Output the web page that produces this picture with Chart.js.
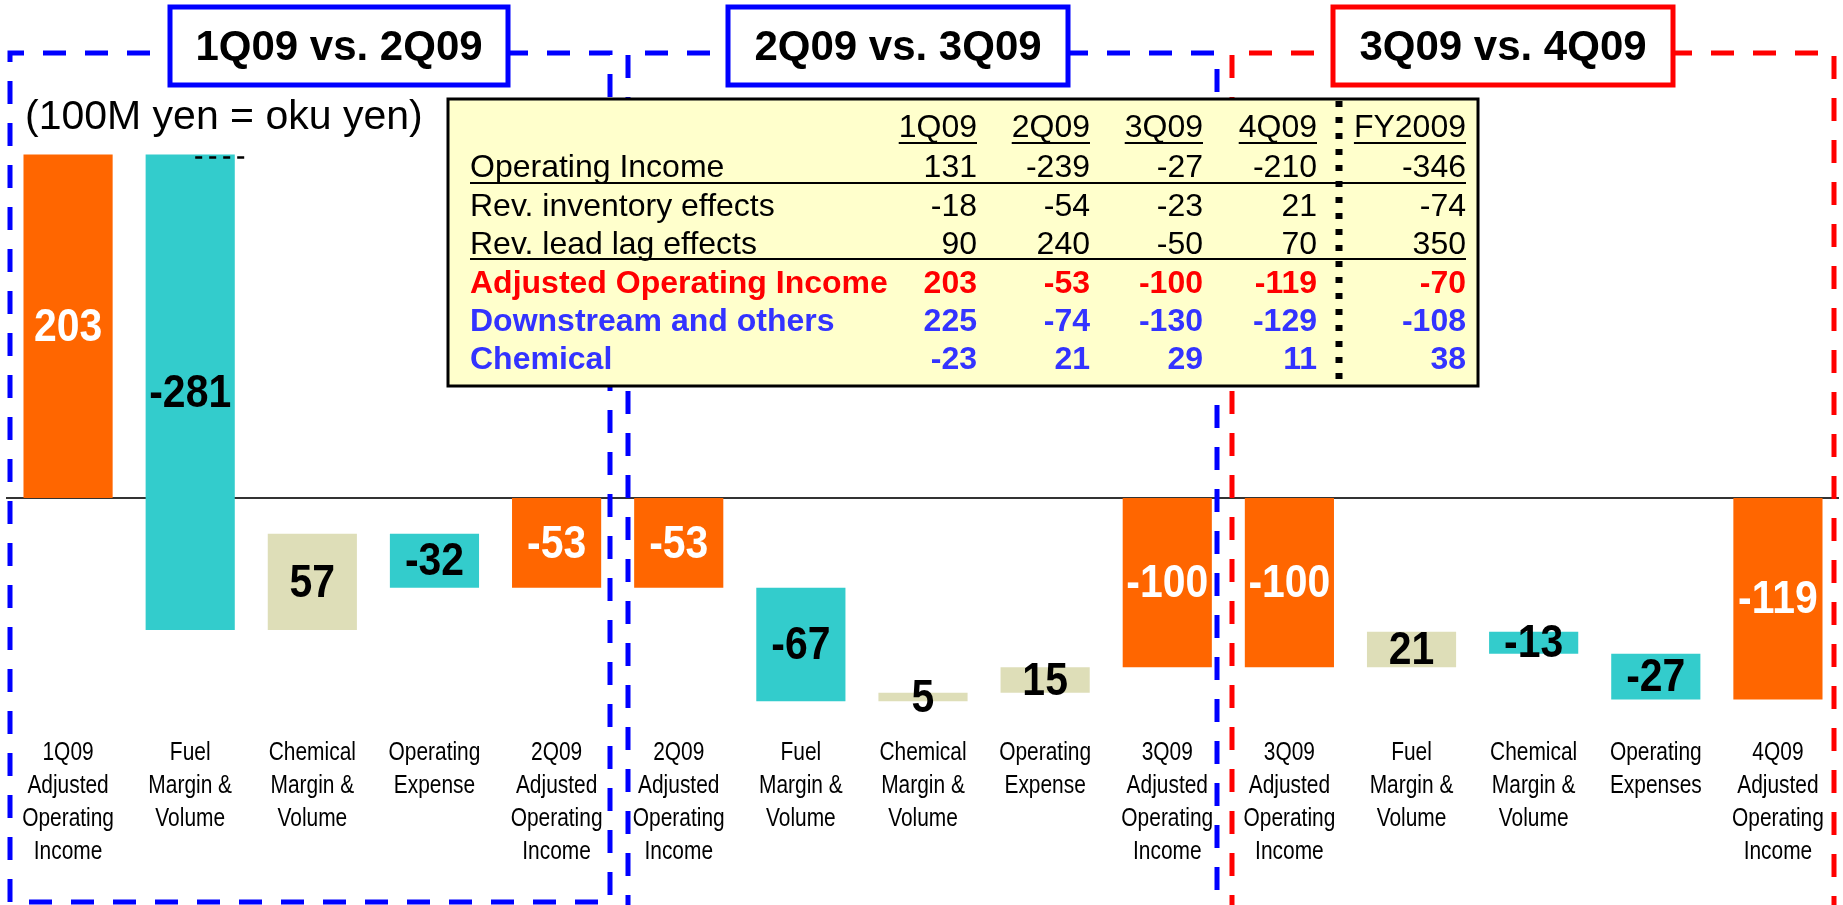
<!DOCTYPE html>
<html><head><meta charset="utf-8">
<script src="https://cdn.jsdelivr.net/npm/chart.js@4/dist/chart.umd.min.js"></script>
<style>html,body{margin:0;padding:0;background:#fff;overflow:hidden}canvas{display:block}</style>
</head><body>
<canvas id="c" width="1843" height="905"></canvas>
<script>
// ---- data ----
const categories = [
  ['1Q09','Adjusted','Operating','Income'], ['Fuel','Margin &','Volume'], ['Chemical','Margin &','Volume'], ['Operating','Expense'], ['2Q09','Adjusted','Operating','Income'],
  ['2Q09','Adjusted','Operating','Income'], ['Fuel','Margin &','Volume'], ['Chemical','Margin &','Volume'], ['Operating','Expense'], ['3Q09','Adjusted','Operating','Income'],
  ['3Q09','Adjusted','Operating','Income'], ['Fuel','Margin &','Volume'], ['Chemical','Margin &','Volume'], ['Operating','Expenses'], ['4Q09','Adjusted','Operating','Income']
];
const values  = [203, -281, 57, -32, -53,   -53, -67, 5, 15, -100,   -100, 21, -13, -27, -119];
const isTotal = [true,false,false,false,true, true,false,false,false,true, true,false,false,false,true];

const panelTitles = ['1Q09 vs. 2Q09', '2Q09 vs. 3Q09', '3Q09 vs. 4Q09'];
const unitNote = '(100M yen = oku yen)';

const tableHeaders = ['1Q09','2Q09','3Q09','4Q09','FY2009'];
const rowLabels = ['Operating Income','Rev. inventory effects','Rev. lead lag effects','Adjusted Operating Income','Downstream and others','Chemical'];
const operatingIncome = [131, -239, -27, -210, -346];
const revInventory    = [-18, -54, -23, 21, -74];
const revLeadLag      = [90, 240, -50, 70, 350];
const adjustedOI      = [203, -53, -100, -119, -70];
const downstream      = [225, -74, -130, -129, -108];
const chemical        = [-23, 21, 29, 11, 38];

// ---- derived waterfall ranges ----
let run = 0;
const ranges = values.map((v, i) => {
  if (isTotal[i]) { run = v; return [0, v]; }
  const s = run; run += v; return [s, run];
});
const ORANGE = '#FF6600', TEAL = '#33CCCC', BEIGE = '#DEDEB8';
const colors = values.map((v, i) => isTotal[i] ? ORANGE : (v < 0 ? TEAL : BEIGE));

const SANS = '"Liberation Sans", Arial, sans-serif';

function dashedBox(ctx, x1, y1, x2, y2, color) {
  ctx.save();
  ctx.strokeStyle = color; ctx.lineWidth = 5; ctx.setLineDash([23, 19]);
  ctx.beginPath();
  ctx.moveTo(x1, y2); ctx.lineTo(x1, y1); ctx.lineTo(x2, y1); ctx.lineTo(x2, y2); ctx.lineTo(x1, y2);
  ctx.stroke();
  ctx.restore();
}
function titleBox(ctx, x1, y1, x2, y2, color, text) {
  ctx.save();
  ctx.fillStyle = '#fff'; ctx.fillRect(x1, y1, x2 - x1, y2 - y1);
  ctx.strokeStyle = color; ctx.lineWidth = 5; ctx.setLineDash([]);
  ctx.strokeRect(x1, y1, x2 - x1, y2 - y1);
  ctx.fillStyle = '#000'; ctx.font = 'bold 42px ' + SANS;
  ctx.textAlign = 'center'; ctx.textBaseline = 'middle';
  ctx.fillText(text, (x1 + x2) / 2, (y1 + y2) / 2 + 2);
  ctx.restore();
}
// condensed text (narrow face look)
function narrowText(ctx, text, x, y, sx) {
  ctx.save(); ctx.translate(x, y); ctx.scale(sx, 1); ctx.fillText(text, 0, 0); ctx.restore();
}

const decor = {
  id: 'decor',
  beforeDatasetsDraw(chart) {
    const ctx = chart.ctx, a = chart.chartArea, y0 = chart.scales.y.getPixelForValue(0);
    ctx.save(); ctx.strokeStyle = '#333'; ctx.lineWidth = 2;
    ctx.beginPath(); ctx.moveTo(a.left - 1, y0); ctx.lineTo(a.right, y0); ctx.stroke(); ctx.restore();
  },
  afterDatasetsDraw(chart) {
    const ctx = chart.ctx, meta = chart.getDatasetMeta(0);
    ctx.save();
    ctx.font = 'bold 46px ' + SANS; ctx.textAlign = 'center'; ctx.textBaseline = 'middle';
    meta.data.forEach((bar, i) => {
      ctx.fillStyle = isTotal[i] ? '#fff' : '#000';
      narrowText(ctx, String(values[i]), bar.x, (bar.y + bar.base) / 2 + 2, 0.89);
    });
    // small connector dashes on top of first fuel bar
    const b = meta.data[1];
    const top = Math.min(b.y, b.base);
    ctx.strokeStyle = '#000'; ctx.lineWidth = 2.5; ctx.setLineDash([7, 7]);
    ctx.beginPath(); ctx.moveTo(b.x + 5, top + 3); ctx.lineTo(b.x + 56, top + 3); ctx.stroke();
    ctx.restore();
  },
  afterDraw(chart) {
    const ctx = chart.ctx;
    // category labels (narrow face), placed at the x scale's tick positions
    const xs = chart.scales.x;
    ctx.save();
    ctx.fillStyle = '#000'; ctx.font = '25.5px ' + SANS; ctx.textAlign = 'center'; ctx.textBaseline = 'middle';
    categories.forEach((lines, i) => {
      const x = xs.getPixelForTick(i);
      lines.forEach((t, k) => narrowText(ctx, t, x, xs.top + 18 + k * 33, 0.82));
    });
    ctx.restore();

    // dashed panels
    dashedBox(ctx, 10, 53, 610, 902, '#0000FF');
    dashedBox(ctx, 628, 53, 1217, 960, '#0000FF');
    dashedBox(ctx, 1232, 53, 1834, 960, '#FF0000');

    // unit note
    ctx.save();
    ctx.fillStyle = '#000'; ctx.font = '41px ' + SANS; ctx.textAlign = 'left'; ctx.textBaseline = 'middle';
    ctx.fillText(unitNote, 25, 118);
    ctx.restore();

    // table
    ctx.save();
    ctx.fillStyle = '#FFFFCC'; ctx.fillRect(448, 99, 1030, 287);
    ctx.strokeStyle = '#000'; ctx.lineWidth = 3; ctx.setLineDash([]);
    ctx.strokeRect(448, 99, 1030, 287);
    const colRight = [977, 1090, 1203, 1317, 1466];
    const labelX = 470;
    ctx.textBaseline = 'middle';
    ctx.font = '32px ' + SANS; ctx.fillStyle = '#000'; ctx.textAlign = 'right';
    ctx.lineWidth = 2;
    tableHeaders.forEach((h, j) => {
      ctx.fillText(h, colRight[j], 128);
      const w = ctx.measureText(h).width;
      ctx.beginPath(); ctx.moveTo(colRight[j] - w, 143); ctx.lineTo(colRight[j], 143); ctx.stroke();
    });
    const rows = [operatingIncome, revInventory, revLeadLag, adjustedOI, downstream, chemical];
    const rowY = [168, 207, 245, 284, 322, 360];
    const rowColor = ['#000', '#000', '#000', '#FF0000', '#3333FF', '#3333FF'];
    const rowBold = [false, false, false, true, true, true];
    rows.forEach((r, i) => {
      ctx.font = (rowBold[i] ? 'bold ' : '') + '32px ' + SANS;
      ctx.fillStyle = rowColor[i];
      ctx.textAlign = 'left'; ctx.fillText(rowLabels[i], labelX, rowY[i]);
      ctx.textAlign = 'right';
      r.forEach((v, j) => ctx.fillText(String(v), colRight[j], rowY[i]));
    });
    ctx.strokeStyle = '#000'; ctx.lineWidth = 2;
    [183, 259].forEach(y => { ctx.beginPath(); ctx.moveTo(labelX, y); ctx.lineTo(1466, y); ctx.stroke(); });
    // dotted separator
    ctx.lineWidth = 7; ctx.setLineDash([6, 10]);
    ctx.beginPath(); ctx.moveTo(1339, 101); ctx.lineTo(1339, 385); ctx.stroke();
    ctx.restore();

    // titles
    titleBox(ctx, 170, 7, 508, 85, '#0000FF', panelTitles[0]);
    titleBox(ctx, 728, 7, 1068, 85, '#0000FF', panelTitles[1]);
    titleBox(ctx, 1333, 7, 1673, 85, '#FF0000', panelTitles[2]);
  }
};

new Chart(document.getElementById('c').getContext('2d'), {
  type: 'bar',
  data: {
    labels: categories,
    datasets: [{ data: ranges, backgroundColor: colors, borderWidth: 0, barPercentage: 0.73, categoryPercentage: 1 }]
  },
  options: {
    responsive: false, animation: false, devicePixelRatio: 1,
    layout: { padding: { top: 92, left: 7, right: 4, bottom: 0 } },
    plugins: { legend: { display: false }, tooltip: { enabled: false } },
    scales: {
      x: {
        grid: { display: false, drawTicks: false }, border: { display: false },
        ticks: { autoSkip: false, maxRotation: 0, minRotation: 0, padding: 0, color: 'rgba(0,0,0,0)',
                 font: { family: SANS, size: 25, lineHeight: 1.32 } },
        afterFit: (s) => { s.height = 170; }
      },
      y: { display: false, min: -140, max: 240 }
    }
  },
  plugins: [decor]
});
</script>
</body></html>
